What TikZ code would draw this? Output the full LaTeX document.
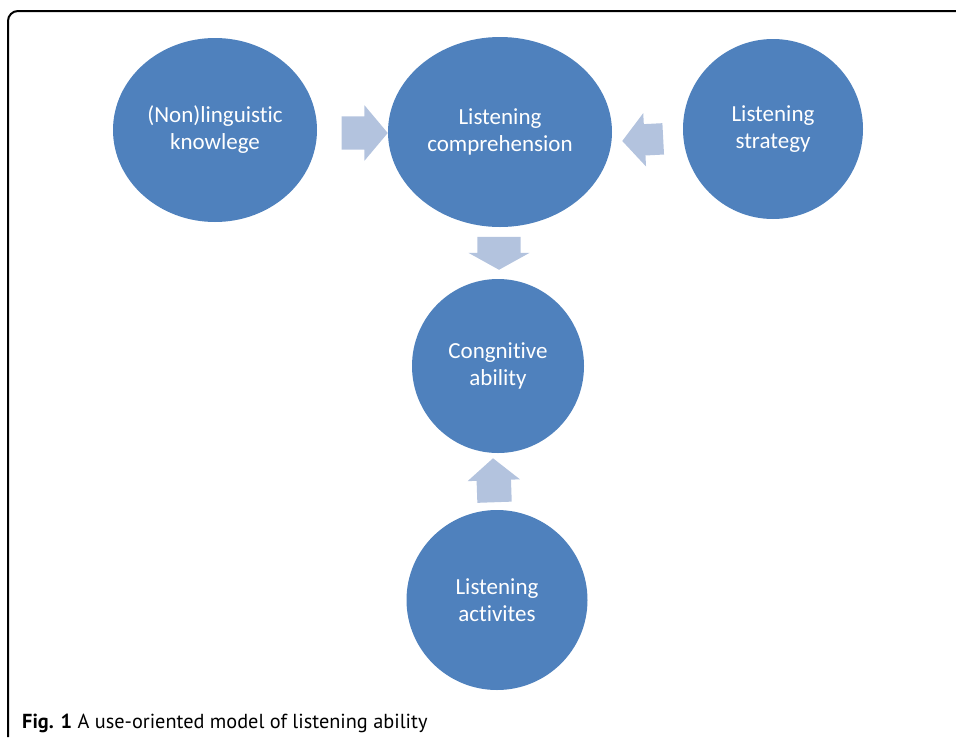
\documentclass[tikz,border=0pt]{standalone}
\usepackage{fontspec}
\setmainfont{Carlito}[Ligatures={NoCommon}]
\newfontfamily\captionfont{PT Sans}
\usetikzlibrary{shapes.geometric,shapes.arrows}
\definecolor{bubble}{HTML}{4F81BD}
\definecolor{pointer}{HTML}{B3C3DE}

\begin{document}
\begin{tikzpicture}[x=1pt, y=-1pt,
		bubble/.style={ellipse, fill=bubble, text=white, align=center, inner sep=0pt, font=\fontsize{23}{27}\selectfont},
		pointer/.style={single arrow, fill=pointer, inner xsep=0pt, anchor=tip}]
		\useasboundingbox (0,0) rectangle (956,737);

		% Draw the frame
		\draw[line width=2pt, rounded corners=10pt] (8,737) -- (8,11) -- (956,11);

		% Draw the bubbles
		\node[bubble, minimum width=204pt, minimum height=184pt] (know) at (215,130) {(Non)linguistic\\knowlege};
		\node[bubble, minimum width=224pt, minimum height=190pt] (comp) at (500,132) {Listening\\comprehension};
		\node[bubble, minimum width=180pt, minimum height=180pt] (strat) at (773,129) {Listening\\strategy};
		\node[bubble, minimum width=172pt, minimum height=174pt] (cog) at (498,366) {Congnitive\\ability};
		\node[bubble, minimum width=181pt, minimum height=180pt] (act) at (497,600) {Listening\\activites};

		% Draw the block arrows between the bubbles
		\node[pointer, inner ysep=16.5pt, minimum height=46pt, single arrow head extend=11pt, single arrow tip angle=100] (knowcomp) at (388,133) {};
		\node[pointer, rotate=183, inner ysep=15.5pt, minimum height=41pt, single arrow head extend=11pt, single arrow tip angle=100] (stratcomp) at (622,141) {};
		\node[pointer, rotate=-90, inner ysep=21.5pt, minimum height=33pt, single arrow head extend=9pt, single arrow tip angle=122] (compcog) at (499,270) {};
		\node[pointer, rotate=92, inner ysep=17pt, minimum height=44pt, single arrow head extend=9pt, single arrow tip angle=100] (actcog) at (493,458) {};

		% Caption
		\node[anchor=base west, inner sep=0pt, font=\captionfont\fontsize{20.3}{24}\selectfont] (caption) at (22,728) {\textbf{Fig. 1} A use-oriented model of listening ability};
	\end{tikzpicture}
\end{document}
